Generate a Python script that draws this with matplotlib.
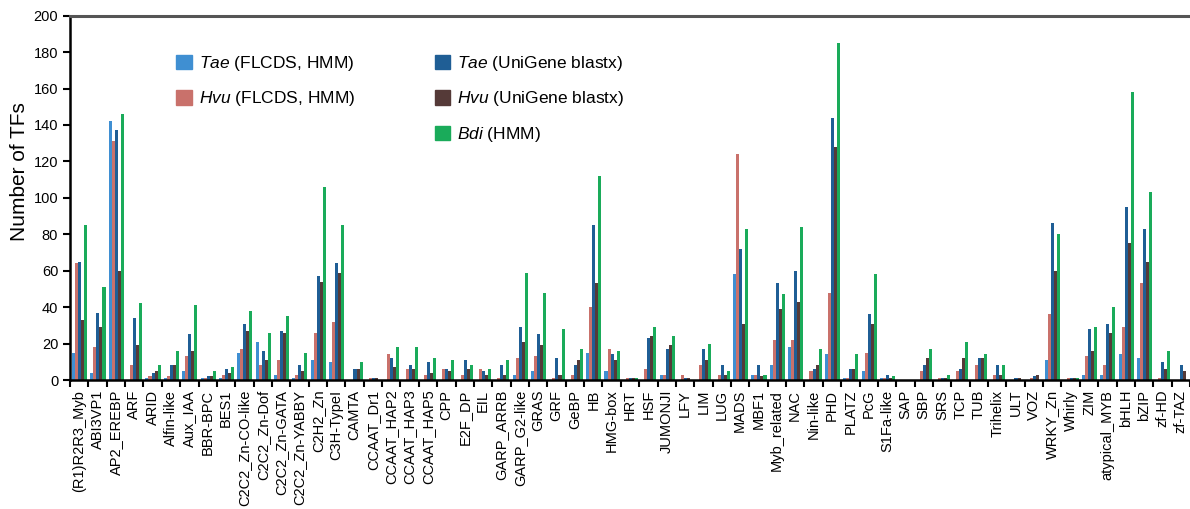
import matplotlib
matplotlib.use('Agg')
import matplotlib.pyplot as plt
import numpy as np
from matplotlib.patches import Patch

plt.rcParams['font.family'] = ['Liberation Sans', 'DejaVu Sans']
plt.rcParams['mathtext.fontset'] = 'custom'
plt.rcParams['mathtext.it'] = 'Liberation Sans:italic'
plt.rcParams['mathtext.rm'] = 'Liberation Sans'

categories = ['(R1)R2R3_Myb', 'ABI3VP1', 'AP2_EREBP', 'ARF', 'ARID', 'Alfin-like',
              'Aux_IAA', 'BBR-BPC', 'BES1', 'C2C2_Zn-CO-like', 'C2C2_Zn-Dof',
              'C2C2_Zn-GATA', 'C2C2_Zn-YABBY', 'C2H2_Zn', 'C3H-TypeI', 'CAMTA',
              'CCAAT_Dr1', 'CCAAT_HAP2', 'CCAAT_HAP3', 'CCAAT_HAP5', 'CPP', 'E2F_DP',
              'EIL', 'GARP_ARRB', 'GARP_G2-like', 'GRAS', 'GRF', 'GeBP', 'HB',
              'HMG-box', 'HRT', 'HSF', 'JUMONJI', 'LFY', 'LIM', 'LUG', 'MADS', 'MBF1',
              'Myb_related', 'NAC', 'Nin-like', 'PHD', 'PLATZ', 'PcG', 'S1Fa-like',
              'SAP', 'SBP', 'SRS', 'TCP', 'TUB', 'Trihelix', 'ULT', 'VOZ', 'WRKY_Zn',
              'Whirly', 'ZIM', 'atypical_MYB', 'bHLH', 'bZIP', 'zf-HD', 'zf-TAZ']

tae_flcds = [15, 4, 142, 0, 1, 1, 5, 1, 1, 15, 21, 3, 1, 11, 10, 0, 0, 0, 0, 0,
             0, 0, 0, 0, 3, 5, 0, 0, 15, 5, 0, 0, 3, 0, 0, 0, 58, 3, 8, 18,
             0, 14, 1, 5, 1, 0, 0, 0, 0, 0, 0, 0, 0, 11, 0, 3, 3, 14, 12, 0, 0]
hvu_flcds = [64, 18, 131, 8, 2, 2, 13, 1, 3, 17, 8, 11, 3, 26, 32, 0, 1, 14, 6, 3,
             6, 3, 6, 1, 12, 13, 1, 3, 40, 17, 1, 6, 3, 3, 8, 3, 124, 3, 22, 22,
             5, 48, 1, 15, 1, 0, 5, 1, 5, 8, 3, 0, 1, 36, 1, 13, 8, 29, 53, 1, 0]
tae_unigene = [65, 37, 137, 34, 4, 8, 25, 2, 6, 31, 16, 27, 8, 57, 64, 6, 1, 12, 8, 10,
               6, 11, 5, 8, 29, 25, 12, 8, 85, 14, 1, 23, 17, 1, 17, 8, 72, 8, 53, 60,
               6, 144, 6, 36, 3, 0, 8, 1, 6, 12, 8, 1, 2, 86, 1, 28, 31, 95, 83, 10, 8]
hvu_unigene = [33, 29, 60, 19, 5, 8, 16, 2, 4, 27, 11, 26, 5, 54, 59, 6, 1, 7, 6, 4,
               5, 6, 3, 3, 21, 19, 3, 11, 53, 11, 1, 24, 19, 1, 11, 3, 31, 2, 39, 43,
               8, 128, 6, 31, 1, 0, 12, 1, 12, 12, 3, 1, 3, 60, 1, 16, 26, 75, 65, 6, 5]
bdi_hmm = [85, 51, 146, 42, 8, 16, 41, 5, 7, 38, 26, 35, 15, 106, 85, 10, 0, 18, 18, 12,
           11, 8, 6, 11, 59, 48, 28, 17, 112, 16, 1, 29, 24, 0, 20, 5, 83, 3, 47, 84,
           17, 185, 14, 58, 2, 0, 17, 3, 21, 14, 8, 0, 0, 80, 1, 29, 40, 158, 103, 16, 0]

series = [tae_flcds, hvu_flcds, tae_unigene, hvu_unigene, bdi_hmm]
labels = [r'$\it{Tae}$ (FLCDS, HMM)', r'$\it{Hvu}$ (FLCDS, HMM)',
          r'$\it{Tae}$ (UniGene blastx)', r'$\it{Hvu}$ (UniGene blastx)',
          r'$\it{Bdi}$ (HMM)']
colors = ['#3f8fd2', '#c9716b', '#1f5e95', '#553a38', '#1aab5a']

fig = plt.figure(figsize=(11.9, 5.09), dpi=100)
ax = fig.add_axes([70 / 1190, 1 - 380 / 509, 1 - 70 / 1190, (380 - 15.7) / 509])

x = np.arange(len(categories))
w = 0.165
for k, (vals, c) in enumerate(zip(series, colors)):
    ax.bar(x + 0.11 + w * k, vals, width=w, align='edge', color=c, linewidth=0)

ax.set_xlim(0, len(categories))
ax.set_ylim(0, 200)
ax.set_yticks(np.arange(0, 201, 20))
ax.tick_params(axis='y', labelsize=10.5, length=5, width=1.5, direction='out')

ax.set_xticks(np.arange(0, len(categories) + 1))
ax.set_xticklabels([])
ax.tick_params(axis='x', which='major', length=5, width=1.5, direction='out')
ax.set_xticks(x + 0.5, minor=True)
ax.set_xticklabels(categories, minor=True, rotation=90, fontsize=10.5)
ax.tick_params(axis='x', which='minor', length=0, pad=7)

ax.spines['right'].set_visible(False)
ax.spines['top'].set_color('#555555')
ax.spines['top'].set_linewidth(2.2)
ax.spines['left'].set_linewidth(1.8)
ax.spines['bottom'].set_linewidth(1.8)

fig.text(20 / 1190, 1 - 172 / 509, 'Number of TFs', rotation=90,
         ha='center', va='center', fontsize=15)

handles = [Patch(color=colors[0]), Patch(color=colors[1]), Patch(alpha=0),
           Patch(color=colors[2]), Patch(color=colors[3]), Patch(color=colors[4])]
leg_labels = [labels[0], labels[1], '', labels[2], labels[3], labels[4]]
fig.legend(handles, leg_labels, loc='upper left', ncol=2,
           bbox_to_anchor=(176 / 1190, 1 - 54 / 509), frameon=False,
           fontsize=12.5, borderpad=0, borderaxespad=0, handlelength=0.9,
           handleheight=0.9, handletextpad=0.4, labelspacing=0.95,
           columnspacing=4.6)

plt.savefig('out.png', dpi=100)
